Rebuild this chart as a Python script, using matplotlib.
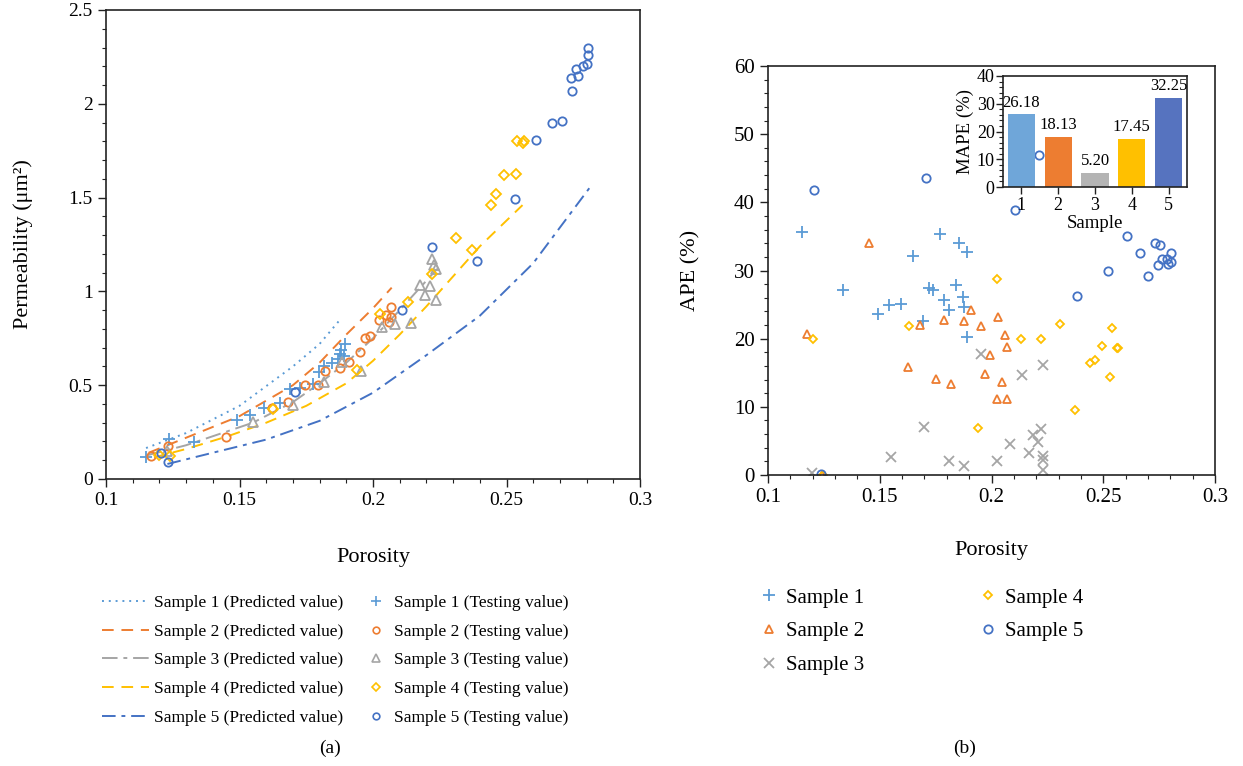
import numpy as np
import matplotlib
matplotlib.use('Agg')
from matplotlib import pyplot as plt
from matplotlib.ticker import MultipleLocator, FormatStrFormatter
from matplotlib.lines import Line2D

plt.rcParams['font.family'] = ['Liberation Serif', 'DejaVu Serif']

colors = ['#5B9BD5', '#ED7D31', '#A5A5A5', '#FFC000', '#4472C4']
bar_colors = ['#6FA6D9', '#ED7D31', '#B4B4B4', '#FFC000', '#5673BF']

# predicted curves (porosity, permeability)
p1_x = [0.115, 0.13, 0.15, 0.17, 0.18, 0.188]
p1_y = [0.165, 0.245, 0.39, 0.60, 0.72, 0.855]
p2_x = [0.116, 0.13, 0.15, 0.17, 0.18, 0.19, 0.20, 0.207]
p2_y = [0.14, 0.22, 0.335, 0.50, 0.62, 0.77, 0.91, 1.02]
p3_x = [0.115, 0.13, 0.155, 0.17, 0.18, 0.19, 0.20, 0.21, 0.224]
p3_y = [0.125, 0.18, 0.30, 0.41, 0.51, 0.62, 0.75, 0.90, 1.12]
p4_x = [0.118, 0.13, 0.145, 0.16, 0.175, 0.19, 0.20, 0.21, 0.22, 0.23, 0.24, 0.256]
p4_y = [0.115, 0.16, 0.225, 0.30, 0.39, 0.51, 0.63, 0.77, 0.92, 1.08, 1.24, 1.46]
p5_x = [0.123, 0.14, 0.16, 0.18, 0.20, 0.22, 0.24, 0.26, 0.281]
p5_y = [0.08, 0.14, 0.21, 0.31, 0.46, 0.66, 0.87, 1.15, 1.55]

# testing values
t1_x = [0.115, 0.1235, 0.133, 0.149, 0.1538, 0.159, 0.165, 0.169, 0.1728, 0.1775,
        0.1796, 0.1815, 0.1846, 0.1870, 0.1878, 0.1890, 0.1896, 0.1880]
t1_y = [0.115, 0.213, 0.197, 0.314, 0.339, 0.376, 0.403, 0.480, 0.484, 0.509,
        0.573, 0.604, 0.616, 0.640, 0.665, 0.658, 0.717, 0.690]
t2_x = [0.1169, 0.1234, 0.145, 0.162, 0.168, 0.1746, 0.1793, 0.182, 0.1878, 0.1911,
        0.195, 0.1971, 0.199, 0.2021, 0.2049, 0.2061, 0.2068, 0.2068]
t2_y = [0.124, 0.177, 0.224, 0.38, 0.41, 0.502, 0.502, 0.575, 0.593, 0.622,
        0.679, 0.753, 0.762, 0.846, 0.873, 0.837, 0.864, 0.919]
t3_x = [0.1230, 0.155, 0.170, 0.1815, 0.1884, 0.1955, 0.2034, 0.2084, 0.2144, 0.2175,
        0.2196, 0.2215, 0.2235, 0.2221, 0.2230, 0.2235]
t3_y = [0.147, 0.303, 0.394, 0.518, 0.622, 0.577, 0.812, 0.824, 0.832, 1.034,
        0.980, 1.029, 0.953, 1.174, 1.140, 1.120]
t4_x = [0.120, 0.124, 0.1625, 0.194, 0.2025, 0.213, 0.2221, 0.2312, 0.2369, 0.2442,
        0.2462, 0.2489, 0.2534, 0.254, 0.256, 0.2565]
t4_y = [0.13, 0.12, 0.375, 0.58, 0.878, 0.944, 1.091, 1.286, 1.221, 1.462,
        1.517, 1.619, 1.627, 1.803, 1.793, 1.802]
t5_x = [0.1206, 0.1234, 0.1706, 0.2109, 0.222, 0.239, 0.2531, 0.261, 0.2669, 0.2708,
        0.2740, 0.2747, 0.2760, 0.2766, 0.2785, 0.2800, 0.2806, 0.2806]
t5_y = [0.138, 0.093, 0.464, 0.903, 1.237, 1.163, 1.494, 1.807, 1.899, 1.908,
        2.139, 2.066, 2.185, 2.150, 2.203, 2.214, 2.258, 2.296]

# APE (%)
a1_x = [0.1151, 0.1334, 0.1491, 0.1541, 0.1594, 0.1650, 0.1695, 0.1722, 0.1740, 0.1770,
        0.1789, 0.1808, 0.1841, 0.1853, 0.1871, 0.1878, 0.1892, 0.1892]
a1_y = [35.6, 27.1, 23.6, 24.9, 25.1, 32.1, 22.6, 27.4, 27.1, 35.4,
        25.7, 24.2, 27.8, 34.0, 26.1, 24.7, 32.7, 20.3]
a2_x = [0.1176, 0.1240, 0.1453, 0.1625, 0.1682, 0.1752, 0.1789, 0.1820, 0.1878, 0.1910,
        0.1953, 0.1972, 0.1992, 0.2023, 0.2029, 0.2048, 0.2062, 0.2068, 0.2068]
a2_y = [20.7, 0.0, 34.1, 15.8, 22.0, 14.1, 22.8, 13.3, 22.6, 24.2,
        21.8, 14.8, 17.6, 11.2, 23.2, 13.7, 20.5, 18.8, 11.2]
a3_x = [0.1195, 0.1549, 0.1699, 0.1808, 0.1878, 0.1953, 0.2026, 0.2081, 0.2138, 0.2169,
        0.2187, 0.2208, 0.2220, 0.2232, 0.2232, 0.2232, 0.2232]
a3_y = [0.3, 2.6, 7.1, 2.0, 1.3, 17.8, 2.0, 4.6, 14.6, 3.2,
        5.9, 4.8, 6.8, 16.2, 2.8, 2.2, 0.7]
a4_x = [0.1200, 0.1245, 0.1631, 0.1941, 0.2023, 0.2131, 0.2220, 0.2308, 0.2372, 0.2441,
        0.2462, 0.2493, 0.2530, 0.2538, 0.2560, 0.2565]
a4_y = [19.9, 0.0, 21.9, 6.9, 28.8, 19.9, 19.9, 22.2, 9.6, 16.4,
        16.8, 18.9, 14.4, 21.6, 18.7, 18.7]
a5_x = [0.1206, 0.1237, 0.1707, 0.2105, 0.2214, 0.2384, 0.2523, 0.2605, 0.2663, 0.2702,
        0.2732, 0.2745, 0.2753, 0.2764, 0.2784, 0.2790, 0.2803, 0.2803]
a5_y = [41.8, 0.1, 43.6, 38.9, 47.0, 26.3, 30.0, 35.0, 32.5, 29.2,
        34.1, 30.8, 33.7, 31.7, 31.7, 31.0, 31.3, 32.5]

samples = ['1', '2', '3', '4', '5']
mape = [26.18, 18.13, 5.20, 17.45, 32.25]

W, H = 1243, 766
fig = plt.figure(figsize=(W / 100, H / 100), dpi=100)

def box(l, t, r, b):
    return [l / W, 1 - b / H, (r - l) / W, (b - t) / H]

def style_axis(ax, size):
    ax.tick_params(which='both', direction='out', labelsize=size, color='#222222')
    ax.tick_params(which='major', length=6, width=1)
    ax.tick_params(which='minor', length=3, width=0.8)
    for s in ax.spines.values():
        s.set_linewidth(1.2)
        s.set_color('#222222')

# ---------- (a) ----------
ax1 = fig.add_axes(box(106, 10, 640, 479))
ls = [(0, (1, 2.5)), (0, (6, 4)), (0, (8, 3, 2, 3)), (0, (6, 4)), (0, (7, 3, 2, 3))]
px = [p1_x, p2_x, p3_x, p4_x, p5_x]
py = [p1_y, p2_y, p3_y, p4_y, p5_y]
tx = [t1_x, t2_x, t3_x, t4_x, t5_x]
ty = [t1_y, t2_y, t3_y, t4_y, t5_y]
mk = ['+', 'o', '^', 'D', 'o']
ms = [9, 6, 7, 5.5, 6]
for i in range(5):
    ax1.plot(px[i], py[i], color=colors[i], linestyle=ls[i], lw=1.4)
for i in range(5):
    ax1.plot(tx[i], ty[i], linestyle='none', marker=mk[i], ms=ms[i],
             mfc='none', mec=colors[i], mew=1.3)
ax1.set_xlim(0.1, 0.3)
ax1.set_ylim(0, 2.5)
ax1.xaxis.set_major_locator(MultipleLocator(0.05))
ax1.xaxis.set_minor_locator(MultipleLocator(0.01))
ax1.yaxis.set_major_locator(MultipleLocator(0.5))
ax1.yaxis.set_minor_locator(MultipleLocator(0.1))
ax1.xaxis.set_major_formatter(FormatStrFormatter('%g'))
ax1.yaxis.set_major_formatter(FormatStrFormatter('%g'))
style_axis(ax1, 14)
ax1.set_xlabel('Porosity', fontsize=16)
ax1.set_ylabel('Permeability (μm²)', fontsize=16)
ax1.xaxis.set_label_coords(0.5, -(548 - 479) / 469)
ax1.yaxis.set_label_coords(-(106 - 33) / 534, 0.5)

h_pred = [Line2D([], [], color=colors[i], linestyle=ls[i], lw=1.4) for i in range(5)]
h_test = [Line2D([], [], color=colors[i], linestyle='none', marker=mk[i],
                 ms=ms[i] * 0.8, mfc='none', mec=colors[i], mew=1.2) for i in range(5)]
fig.legend(h_pred, ['Sample %d (Predicted value)' % (i + 1) for i in range(5)],
           loc='upper left', bbox_to_anchor=(102 / W, 1 - 595 / H), frameon=False,
           fontsize=12.5, handlelength=2.7, handletextpad=0.3, labelspacing=0.72,
           borderaxespad=0, borderpad=0)
fig.legend(h_test, ['Sample %d (Testing value)' % (i + 1) for i in range(5)],
           loc='upper left', bbox_to_anchor=(366 / W, 1 - 595 / H), frameon=False,
           fontsize=12.5, handlelength=1.2, handletextpad=0.4, labelspacing=0.72,
           borderaxespad=0, borderpad=0)

# ---------- (b) ----------
ax2 = fig.add_axes(box(768, 66, 1215, 475))
ax_ = [a1_x, a2_x, a3_x, a4_x, a5_x]
ay_ = [a1_y, a2_y, a3_y, a4_y, a5_y]
mk2 = ['+', '^', 'x', 'D', 'o']
ms2 = [8, 6, 7, 4.5, 6]
for i in range(5):
    ax2.plot(ax_[i], ay_[i], linestyle='none', marker=mk2[i], ms=ms2[i],
             mfc='none', mec=colors[i], mew=1.3, label='Sample %d' % (i + 1))
ax2.set_xlim(0.1, 0.3)
ax2.set_ylim(0, 60)
ax2.xaxis.set_major_locator(MultipleLocator(0.05))
ax2.xaxis.set_minor_locator(MultipleLocator(0.01))
ax2.yaxis.set_major_locator(MultipleLocator(10))
ax2.yaxis.set_minor_locator(MultipleLocator(2))
ax2.xaxis.set_major_formatter(FormatStrFormatter('%g'))
style_axis(ax2, 15)
ax2.set_xlabel('Porosity', fontsize=16)
ax2.set_ylabel('APE (%)', fontsize=16)
ax2.xaxis.set_label_coords(0.5, -(541 - 475) / 409)
ax2.yaxis.set_label_coords(-(768 - 700) / 447, 0.5)
fig.legend(*ax2.get_legend_handles_labels(), ncol=2, loc='upper left',
           bbox_to_anchor=(760 / W, 1 - 588 / H), frameon=False, fontsize=15,
           handlelength=0.9, handletextpad=0.35, labelspacing=0.68,
           columnspacing=5.5, borderaxespad=0, borderpad=0)

# inset
ax3 = fig.add_axes(box(1003, 76, 1187, 187))
ax3.set_facecolor('none')
ax3.bar(samples, mape, width=0.74, color=bar_colors)
for i, v in enumerate(mape):
    ax3.text(i, v + 1.2, '%.2f' % v, ha='center', va='bottom', fontsize=12)
ax3.set_ylim(0, 40)
ax3.set_xlim(-0.5, 4.5)
ax3.yaxis.set_major_locator(MultipleLocator(10))
ax3.yaxis.set_minor_locator(MultipleLocator(2))
style_axis(ax3, 13)
ax3.tick_params(axis='x', which='minor', bottom=False)
ax3.tick_params(which='major', length=5)
ax3.tick_params(axis='x', pad=2)
ax3.tick_params(axis='y', pad=1)
ax3.set_xlabel('Sample', fontsize=13.5, labelpad=1)
ax3.set_ylabel('MAPE (%)', fontsize=13.5, labelpad=2)

fig.text(330 / W, 1 - 748 / H, '(a)', ha='center', va='center', fontsize=14)
fig.text(965 / W, 1 - 748 / H, '(b)', ha='center', va='center', fontsize=14)

plt.savefig('out.png', dpi=100)
